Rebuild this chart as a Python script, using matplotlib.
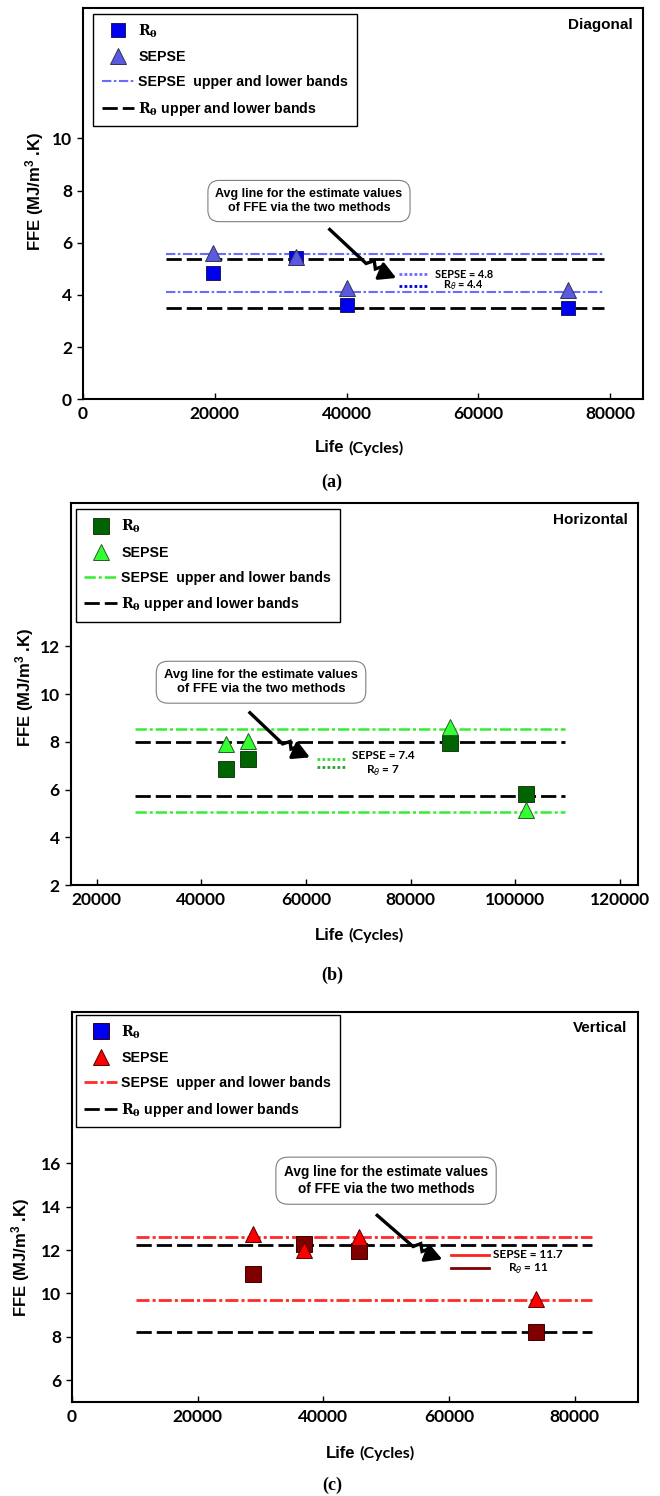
import numpy as np
import matplotlib
matplotlib.use('Agg')
import matplotlib.pyplot as plt
from matplotlib.lines import Line2D
from matplotlib.font_manager import FontProperties
from matplotlib.transforms import IdentityTransform

plt.rcParams['font.family'] = ['Liberation Sans', 'DejaVu Sans']
plt.rcParams['mathtext.fontset'] = 'custom'
plt.rcParams['mathtext.rm'] = 'Liberation Sans'
plt.rcParams['mathtext.bf'] = 'Liberation Sans:bold'
plt.rcParams['mathtext.it'] = 'Liberation Sans:italic'

# ---- data ----
# (a) diagonal
diag_life = [19700, 32400, 40000, 73600]
diag_r = [4.85, 5.4, 3.6, 3.5]
diag_sepse = [5.62, 5.45, 4.25, 4.18]
diag_r_band = [5.38, 3.5]
diag_sepse_band = [5.58, 4.12]
diag_avg = [4.8, 4.4]          # SEPSE, R_theta
diag_avg_lines = [4.8, 4.36]

# (b) horizontal
hor_life = [44700, 49000, 87500, 102000]
hor_r = [6.85, 7.3, 7.97, 5.8]
hor_sepse = [7.9, 8.05, 8.62, 5.15]
hor_r_band = [7.98, 5.75]
hor_sepse_band = [8.55, 5.07]
hor_avg = [7.4, 7]
hor_avg_lines = [7.28, 6.93]

# (c) vertical
ver_life = [28800, 36900, 45600, 73800]
ver_r = [10.9, 12.3, 11.95, 8.23]
ver_sepse = [12.72, 12.0, 12.62, 9.72]
ver_r_band = [12.22, 8.23]
ver_sepse_band = [12.62, 9.7]
ver_avg = [11.7, 11]
ver_avg_lines = [11.77, 11.15]

box_text = 'Avg line for the estimate values\nof FFE via the two methods'

W, H = 660, 1496
fig = plt.figure(figsize=(W / 100, H / 100), dpi=100)


def px_axes(l, r, t, b):
    return fig.add_axes([l / W, 1 - b / H, (r - l) / W, (b - t) / H])


def zigzag_arrow(ax, start, end):
    p0 = ax.transData.transform(start)
    p1 = ax.transData.transform(end)
    d = p1 - p0
    L = np.hypot(*d)
    u = d / L
    n = np.array([-u[1], u[0]])
    k = L / 82.0
    steps = [(0, 0), (0.60, -6), (0.66, 1), (0.73, -5), (0.78, 1), (0.84, -3)]
    pts = np.array([p0 + t * d + s * k * n for t, s in steps])
    fig.add_artist(Line2D(pts[:, 0], pts[:, 1], transform=IdentityTransform(),
                          color='black', lw=2.4, solid_joinstyle='miter'))
    ax.annotate('', xy=p1, xycoords='figure pixels', xytext=pts[-1], textcoords='figure pixels',
                arrowprops=dict(arrowstyle='-|>,head_length=1.0,head_width=0.55', color='black',
                                lw=2.4, shrinkA=0, shrinkB=0, mutation_scale=10))


def panel(ax, life, r, sepse, r_band, sepse_band, band_span, cols, xlim, ylim, xticks, yticks,
          name, legend_anchor, box_xy, box_fs, arrow, avg, avg_lines, avg_x, avg_text_x, avg_dy,
          avg_style, avg_fs, band_dash, band_lw, ms, leg_sq_col=None):
    sq_col, sq_edge, tri_col, tri_edge, band_col, avg_cols = cols
    ax.set_xlim(*xlim)
    ax.set_ylim(*ylim)
    for v in sepse_band:
        ax.plot(band_span, [v, v], color=band_col, lw=band_lw, dashes=band_dash, zorder=2)
    for v in r_band:
        ax.plot(band_span, [v, v], color='black', lw=2, dashes=(5.5, 1.8), zorder=2)
    ax.plot(life, r, ls='none', marker='s', ms=ms, mfc=sq_col, mec=sq_edge, mew=0.7, zorder=3)
    ax.plot(life, sepse, ls='none', marker='^', ms=ms + 0.5, mfc=tri_col, mec=tri_edge, mew=0.7, zorder=4)

    ax.set_xticks(xticks, [str(t) for t in xticks], fontfamily='Lato', fontweight='bold', fontsize=12.5)
    ax.set_yticks(yticks, [str(t) for t in yticks], fontfamily='Lato', fontweight='bold', fontsize=12.5)
    ax.tick_params(axis='x', direction='in', length=4, width=1, pad=5, top=False)
    ax.tick_params(axis='y', direction='out', length=4, width=1, pad=4, right=False)
    for s in ax.spines.values():
        s.set_linewidth(1.5)

    ax.text(0.982, 0.975, name, transform=ax.transAxes, ha='right', va='top',
            fontsize=11, fontweight='bold')

    handles = [
        Line2D([], [], ls='none', marker='s', ms=ms, mfc=leg_sq_col or sq_col, mec=sq_edge, mew=0.7),
        Line2D([], [], ls='none', marker='^', ms=ms + 0.5, mfc=tri_col, mec=tri_edge, mew=0.7),
        Line2D([], [], color=band_col, lw=band_lw, dashes=band_dash),
        Line2D([], [], color='black', lw=2, dashes=(5.5, 1.8)),
    ]
    labels = [r'$\mathbf{R_{\theta}}$', 'SEPSE', 'SEPSE  upper and lower bands',
              r'$\mathbf{R_{\theta}}$ upper and lower bands']
    prop = FontProperties(family='Liberation Sans', weight='bold', size=10.2, math_fontfamily='dejavuserif')
    leg = ax.legend(handles, labels, loc='upper left', bbox_to_anchor=legend_anchor, borderaxespad=0,
                    prop=prop, fancybox=False, edgecolor='black', framealpha=1, handlelength=2.3,
                    handletextpad=0.3, labelspacing=0.75, borderpad=0.6)
    leg.get_frame().set_linewidth(1)

    ax.text(box_xy[0], box_xy[1], box_text, ha='center', va='center', fontsize=box_fs,
            fontweight='bold', zorder=6, linespacing=1.25,
            bbox=dict(boxstyle='round,pad=0.6,rounding_size=0.9', fc='white', ec='#7f7f7f', lw=0.8))
    zigzag_arrow(ax, arrow[0], arrow[1])

    for v, c in zip(avg_lines, avg_cols):
        ax.plot(avg_x, [v, v], color=c, **avg_style)
    ax.annotate('SEPSE = %s' % avg[0], (avg_text_x, avg_lines[0]), xytext=(0, avg_dy),
                textcoords='offset points', ha='center', va='center',
                fontsize=avg_fs, fontweight='bold', fontfamily='Lato')
    ax.annotate(r'R$_{\theta}$ = %s' % avg[1], (avg_text_x, avg_lines[1]), xytext=(0, -avg_dy),
                textcoords='offset points', ha='center', va='center',
                fontsize=avg_fs, fontweight='bold', fontfamily='Lato', math_fontfamily='dejavusans')


def labels(life_x, life_y, cap_y, cap_label, ylab_x, ylab_y):
    fig.text(life_x / W, 1 - life_y / H, 'Life', ha='right', va='center', fontsize=12, fontweight='bold')
    fig.text((life_x + 4) / W, 1 - life_y / H, '(Cycles)', ha='left', va='center', fontsize=11.5,
             fontfamily='Lato', fontweight='bold')
    fig.text(332 / W, 1 - cap_y / H, cap_label, ha='center', va='center', fontsize=13,
             fontfamily='Liberation Serif', fontweight='bold')
    fig.text(ylab_x / W, 1 - ylab_y / H, r'FFE (MJ/m$^{\mathbf{3}}$ .K)', rotation=90, ha='center',
             va='center', fontsize=12, fontweight='bold')


# (a)
ax_a = px_axes(83, 643, 8, 399.3)
panel(ax_a, diag_life, diag_r, diag_sepse, diag_r_band, diag_sepse_band, [12600, 79100],
      ('#0000f0', '#1a1a60', '#5a5ae0', '#333355', '#6b6bff', ['#6b6bff', '#0000dd']),
      (0, 85000), (0, 15), [0, 20000, 40000, 60000, 80000], [0, 2, 4, 6, 8, 10],
      'Diagonal', (0.018, 0.985), (34300, 7.6), 9, [(37450, 6.51), (47550, 4.65)],
      diag_avg, diag_avg_lines, [48000, 52400], 57800, 0,
      dict(lw=2, ls=(0, (1, 0.8))), 7.8, (4.5, 1.2, 1.2, 1.2), 1.5, 10.5)
labels(344, 448, 482, '(a)', 35, 191)

# (b)
ax_b = px_axes(70.7, 638, 503.3, 885)
panel(ax_b, hor_life, hor_r, hor_sepse, hor_r_band, hor_sepse_band, [27300, 109500],
      ('#006400', '#1a3a1a', '#33ff33', '#2a5a2a', '#33ee33', ['#33dd33', '#2e9e2e']),
      (15000, 123500), (2, 18), [20000, 40000, 60000, 80000, 100000, 120000], [2, 4, 6, 8, 10, 12],
      'Horizontal', (0.0093, 0.984), (51400, 10.5), 9.4, [(49280, 9.22), (60750, 7.35)],
      hor_avg, hor_avg_lines, [62100, 67770], 74700, 2.5,
      dict(lw=2, ls=(0, (1, 0.8))), 8.5, (4.5, 1.2, 1.2, 1.2), 1.8, 11)
labels(344, 935, 975, '(b)', 25, 687)

# (c)
ax_c = px_axes(72, 637.7, 1011.7, 1401.7)
panel(ax_c, ver_life, ver_r, ver_sepse, ver_r_band, ver_sepse_band, [10260, 82800],
      ('#800000', '#3a0000', '#ff0000', '#550000', '#ff2a2a', ['#ff2020', '#800000']),
      (0, 90000), (5, 23), [0, 20000, 40000, 60000, 80000], [6, 8, 10, 12, 14, 16],
      'Vertical', (0.007, 0.992), (49960, 15.2), 9.8, [(48560, 13.6), (58920, 11.57)],
      ver_avg, ver_avg_lines, [60350, 66340], 72520, 0.5,
      dict(lw=2, ls='-'), 8.5, (4.7, 1.1, 1.1, 1.1), 2, 11, leg_sq_col='#0000f0')
labels(355, 1453, 1485, '(c)', 21, 1257)

fig.savefig('out.png', dpi=100)
